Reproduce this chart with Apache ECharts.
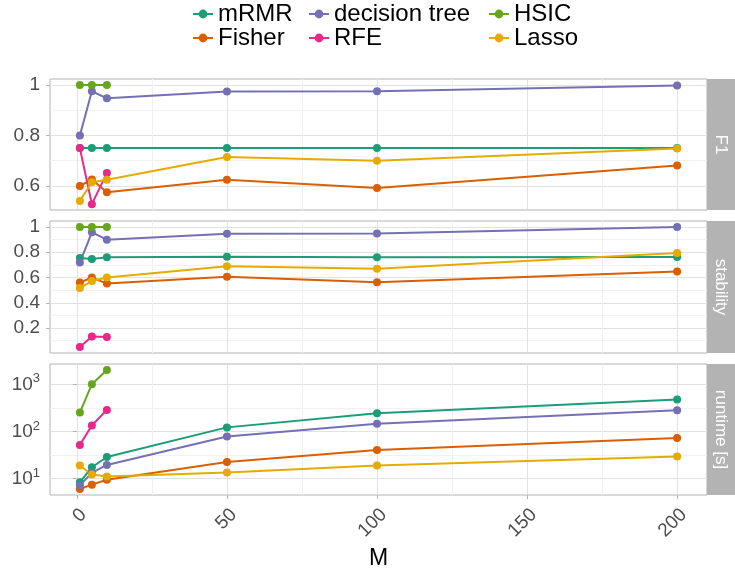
<!DOCTYPE html>
<html><head><meta charset="utf-8">
<script src="https://cdn.jsdelivr.net/npm/echarts@6/dist/echarts.min.js"></script>
<style>html,body{margin:0;padding:0;background:#fff}#c{width:735px;height:573px}</style>
</head><body><div id="c"></div>
<script>
// ---------- data ----------
const M = [1, 5, 10, 50, 100, 200];
const M_short = [1, 5, 10];
const methods = ['mRMR', 'Fisher', 'decision tree', 'RFE', 'HSIC', 'Lasso'];
const panelNames = ['F1', 'stability', 'runtime [s]'];

// F1
const f1_mRMR  = [0.75, 0.75, 0.75, 0.75, 0.75, 0.75];
const f1_Fisher = [0.60, 0.626, 0.575, 0.625, 0.592, 0.681];
const f1_tree  = [0.80, 0.975, 0.947, 0.974, 0.975, 0.998];
const f1_RFE   = [0.75, 0.528, 0.651];
const f1_HSIC  = [1, 1, 1];
const f1_Lasso = [0.541, 0.615, 0.625, 0.715, 0.70, 0.748];

// stability
const st_mRMR  = [0.755, 0.747, 0.76, 0.765, 0.76, 0.762];
const st_Fisher = [0.56, 0.60, 0.552, 0.607, 0.562, 0.647];
const st_tree  = [0.718, 0.958, 0.90, 0.947, 0.948, 1.0];
const st_RFE   = [0.05, 0.134, 0.129];
const st_HSIC  = [1, 1, 1];
const st_Lasso = [0.517, 0.572, 0.60, 0.689, 0.67, 0.794];

// runtime in seconds
const rt_mRMR  = [8.4, 17.5, 28.8, 122, 244, 472];
const rt_Fisher = [6.05, 7.5, 9.5, 22.7, 40.5, 73];
const rt_tree  = [7.3, 13.3, 19.6, 78, 146, 282];
const rt_RFE   = [52, 134, 286];
const rt_HSIC  = [251, 1000, 2000];
const rt_Lasso = [19, 12.3, 11.2, 13.5, 19, 29.7];

// tick labels
const xTicks = [0, 50, 100, 150, 200];
const f1Ticks = [0.6, 0.8, 1];
const stTicks = [0.2, 0.4, 0.6, 0.8, 1];
const rtTickExponents = [1, 2, 3];

// ---------- styling ----------
const colors = ['#1B9E77', '#D95F02', '#7570B3', '#E7298A', '#66A61E', '#E6AB02'];
const font = 'Liberation Sans, Arial, Helvetica, sans-serif';
const MAJ = '#e2e2e2', MIN = '#f1f1f1', BORDER = '#b3b3b3', LAB = '#4d4d4d';
const panels = [{top: 79, height: 131}, {top: 221, height: 132}, {top: 364, height: 131}];
const LEFT = 50, RIGHT_EDGE = 707;

function withMinor(ticks, lo, hi) {
  const out = [];
  for (let i = 0; i < ticks.length; i++) {
    out.push(ticks[i]);
    if (i < ticks.length - 1) out.push((ticks[i] + ticks[i + 1]) / 2);
  }
  const step = ticks.length > 1 ? (ticks[1] - ticks[0]) / 2 : 0;
  if (ticks[0] - step > lo) out.unshift(+(ticks[0] - step).toFixed(6));
  if (ticks[ticks.length - 1] + step < hi) out.push(+(ticks[ticks.length - 1] + step).toFixed(6));
  return out.map(v => +v.toFixed(6));
}
function colorsFor(all, majors) {
  return all.map(v => majors.some(m => Math.abs(m - v) < 1e-6) ? MAJ : MIN);
}

const xMin = -8.95, xMax = 209.95;
const yRanges = [[0.505, 1.0235], [0.0025, 1.0475], [0.656, 3.427]];
const rtTicks = rtTickExponents.slice();
const yMajors = [f1Ticks, stTicks, rtTicks];

const xAll = withMinor(xTicks, xMin, xMax);

const grid = panels.map(p => ({
  left: LEFT, width: RIGHT_EDGE - LEFT, top: p.top, height: p.height,
  show: true, borderColor: BORDER, borderWidth: 1, backgroundColor: '#fff', containLabel: false
}));

const xAxis = [];
const yAxis = [];
for (let i = 0; i < 3; i++) {
  xAxis.push({
    gridIndex: i, type: 'value', min: xMin, max: xMax, position: 'bottom',
    axisLine: {show: false},
    axisTick: {show: false, customValues: xAll},
    axisLabel: {show: false},
    splitLine: {show: true, lineStyle: {color: colorsFor(xAll, xTicks), width: 1}}
  });
}
// ticks + labels on the bottom panel
xAxis.push({
  gridIndex: 2, type: 'value', min: xMin, max: xMax, position: 'bottom',
  axisLine: {show: false},
  axisTick: {show: true, length: 4, customValues: xTicks, lineStyle: {color: BORDER, width: 1}},
  axisLabel: {show: true, customValues: xTicks, rotate: 45, margin: 10, verticalAlign: 'top',
              color: LAB, fontSize: 19, fontFamily: font},
  splitLine: {show: false},
  name: 'M', nameLocation: 'middle', nameGap: 52,
  nameTextStyle: {color: '#000', fontSize: 23, fontFamily: font}
});

for (let i = 0; i < 3; i++) {
  const [lo, hi] = yRanges[i];
  const all = withMinor(yMajors[i], lo, hi);
  const lbl = {
    show: true, customValues: yMajors[i], margin: 10, color: LAB, fontSize: 19, fontFamily: font
  };
  if (i === 2) {
    lbl.formatter = v => '{b|10}{s|' + Math.round(v) + '}';
    lbl.rich = {
      b: {fontSize: 19, color: LAB, fontFamily: font, verticalAlign: 'bottom', lineHeight: 20},
      s: {fontSize: 13, color: LAB, fontFamily: font, verticalAlign: 'bottom', lineHeight: 13, padding: [0, 0, 9, 0]}
    };
  }
  yAxis.push({
    gridIndex: i, type: 'value', min: lo, max: hi, position: 'left',
    axisLine: {show: false},
    axisTick: {show: false, customValues: all},
    axisLabel: lbl,
    splitLine: {show: true, lineStyle: {color: colorsFor(all, yMajors[i]), width: 1}}
  });
}
for (let i = 0; i < 3; i++) {
  const [lo, hi] = yRanges[i];
  yAxis.push({
    gridIndex: i, type: 'value', min: lo, max: hi, position: 'left',
    axisLine: {show: false},
    axisTick: {show: true, length: 4, customValues: yMajors[i], lineStyle: {color: BORDER, width: 1}},
    axisLabel: {show: false},
    splitLine: {show: false}
  });
}

const panelData = [
  [f1_mRMR, f1_Fisher, f1_tree, f1_RFE, f1_HSIC, f1_Lasso],
  [st_mRMR, st_Fisher, st_tree, st_RFE, st_HSIC, st_Lasso],
  [rt_mRMR, rt_Fisher, rt_tree, rt_RFE, rt_HSIC, rt_Lasso].map(a => a.map(v => Math.log10(v)))
];

const series = [];
for (let p = 0; p < 3; p++) {
  methods.forEach((name, k) => {
    const ys = panelData[p][k];
    const xs = ys.length === M.length ? M : M_short;
    series.push({
      name, type: 'line', xAxisIndex: p, yAxisIndex: p,
      data: ys.map((y, i) => [xs[i], y]),
      symbol: 'circle', symbolSize: 8, showSymbol: true,
      lineStyle: {color: colors[k], width: 2},
      itemStyle: {color: colors[k]},
      emphasis: {disabled: true},
      silent: true
    });
  });
}

const legendBase = {
  orient: 'vertical', top: 2, itemGap: 0, itemWidth: 20, itemHeight: 11, padding: 0,
  selectedMode: false,
  textStyle: {fontSize: 24, color: '#000', fontFamily: font, lineHeight: 23}
};
const legend = [
  Object.assign({}, legendBase, {left: 192, data: ['mRMR', 'Fisher']}),
  Object.assign({}, legendBase, {left: 308, data: ['decision tree', 'RFE']}),
  Object.assign({}, legendBase, {left: 488, data: ['HSIC', 'Lasso']})
];

const graphic = [];
panels.forEach((p, i) => {
  graphic.push({
    type: 'rect', left: RIGHT_EDGE, top: p.top, shape: {width: 735 - RIGHT_EDGE, height: p.height},
    style: {fill: BORDER}, silent: true
  });
  graphic.push({
    type: 'text', x: RIGHT_EDGE + (735 - RIGHT_EDGE) / 2, y: p.top + p.height / 2,
    rotation: -Math.PI / 2,
    style: {text: panelNames[i], fill: '#fff', fontSize: 17, fontFamily: font, align: 'center', verticalAlign: 'middle'},
    silent: true
  });
});

const chart = echarts.init(document.getElementById('c'), null, {renderer: 'canvas'});
chart.setOption({
  animation: false,
  backgroundColor: '#fff',
  color: colors,
  grid, xAxis, yAxis, series, legend, graphic
});
</script>
</body></html>
